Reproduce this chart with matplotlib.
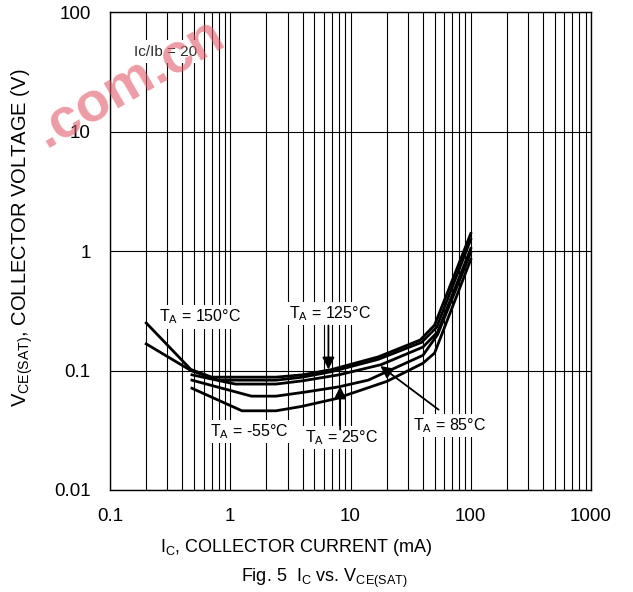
import matplotlib
matplotlib.use('Agg')
import matplotlib.pyplot as plt

plt.rcParams['font.family'] = ['Liberation Sans', 'DejaVu Sans']
plt.rcParams['mathtext.fontset'] = 'custom'
plt.rcParams['mathtext.rm'] = 'Liberation Sans'
plt.rcParams['mathtext.it'] = 'Liberation Sans:italic'

# collector current (mA) / Vce(sat) (V)
ic_150 = [0.2, 0.47, 0.7, 2.4, 4.0, 7.0, 17, 38, 50, 100]
vce_150 = [0.25, 0.102, 0.088, 0.088, 0.092, 0.102, 0.13, 0.18, 0.24, 1.4]

ic_125 = [0.2, 0.47, 0.8, 2.4, 4.0, 7.0, 17, 39, 52, 100]
vce_125 = [0.167, 0.1, 0.083, 0.083, 0.088, 0.098, 0.124, 0.172, 0.23, 1.25]

ic_85 = [0.48, 1.1, 2.4, 4.0, 8.0, 18, 40, 53, 100]
vce_85 = [0.092, 0.077, 0.077, 0.082, 0.092, 0.112, 0.157, 0.21, 1.05]

ic_25 = [0.48, 1.5, 2.4, 4.2, 8.0, 14, 40, 53, 100]
vce_25 = [0.083, 0.061, 0.061, 0.066, 0.073, 0.083, 0.134, 0.2, 0.97]

ic_m55 = [0.48, 1.25, 2.4, 3.9, 7.5, 20, 40, 50, 100]
vce_m55 = [0.071, 0.046, 0.046, 0.05, 0.058, 0.081, 0.115, 0.14, 0.85]

curves = [(ic_150, vce_150), (ic_125, vce_125), (ic_85, vce_85),
          (ic_25, vce_25), (ic_m55, vce_m55)]

x_ticks = [0.1, 1, 10, 100, 1000]
x_labels = ['0.1', '1', '10', '100', '1000']
y_ticks = [0.01, 0.1, 1, 10, 100]
y_labels = ['0.01', '0.1', '1', '10', '100']

fig = plt.figure(figsize=(6.33, 5.92), dpi=100)
ax = fig.add_axes([0.1738, 0.1723, 0.7599, 0.8074])
ax.set_xscale('log')
ax.set_yscale('log')
ax.set_xlim(0.1, 1000)
ax.set_ylim(0.01, 100)

ax.grid(True, which='both', axis='x', color='black', lw=0.8)
ax.grid(True, which='major', axis='y', color='black', lw=0.8)
ax.set_axisbelow(True)
for s in ax.spines.values():
    s.set_linewidth(1.0)

ax.set_xticks(x_ticks)
ax.set_xticklabels(x_labels)
ax.set_yticks(y_ticks)
ax.set_yticklabels(y_labels)
ax.tick_params(which='both', length=0, labelsize=13.5, pad=14)
ax.tick_params(axis='x', pad=13)

for ic, v in curves:
    ax.plot(ic, v, color='black', lw=2.0, zorder=3)

box = dict(boxstyle='square,pad=0.15', fc='white', ec='none')
lab = dict(ha='center', va='center', fontsize=11.5, bbox=box, zorder=4)
ax.text(0.56, 0.28, r'T$_\mathregular{A}$ = 150°C', **lab)
ax.text(6.8, 0.30, r'T$_\mathregular{A}$ = 125°C', **lab)
ax.text(1.44, 0.031, r'T$_\mathregular{A}$ = -55°C', **lab)
ax.text(8.4, 0.0275, r'T$_\mathregular{A}$ = 25°C', **lab)
ax.text(66.8, 0.0347, r'T$_\mathregular{A}$ = 85°C', **lab)
ax.text(0.29, 46.7, 'Ic/Ib = 20', ha='center', va='center', fontsize=11,
        color='#2a2a2a', bbox=dict(boxstyle='square,pad=0.3', fc='white', ec='none'), zorder=4)

arr = dict(arrowstyle='-|>', color='black', lw=1.3, mutation_scale=18,
           shrinkA=0, shrinkB=0)
ax.annotate('', xy=(6.55, 0.102), xytext=(6.55, 0.238), arrowprops=arr, zorder=5)
ax.annotate('', xy=(8.2, 0.0735), xytext=(8.2, 0.032), arrowprops=arr, zorder=5)
ax.annotate('', xy=(17.7, 0.109), xytext=(54, 0.047), arrowprops=arr, zorder=5)

fig.text(296 / 633, 1 - 548 / 592, r'I$_\mathregular{C}$, COLLECTOR CURRENT (mA)',
         ha='center', va='center', fontsize=13)
fig.text(324 / 633, 1 - 578 / 592, r'Fig. 5  I$_\mathregular{C}$ vs. V$_\mathregular{CE(SAT)}$',
         ha='center', va='center', fontsize=13)
fig.text(22 / 633, 1 - 238 / 592, r'V$_\mathregular{CE(SAT)}$, COLLECTOR VOLTAGE (V)',
         ha='center', va='center', rotation=90, fontsize=14.5)

# site watermark
fig.text(130 / 633, 1 - 84 / 592, '.com.cn', ha='center', va='center', rotation=30,
         fontsize=40, fontweight='bold', color='#e25a68', alpha=0.6, zorder=10)

fig.savefig('out.png', dpi=100)
